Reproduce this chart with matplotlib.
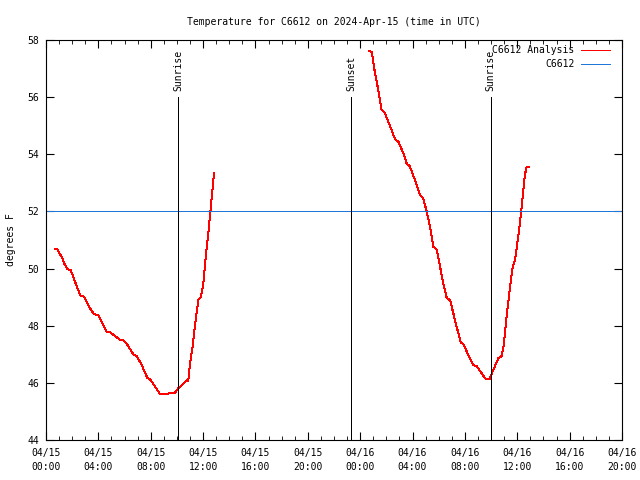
import matplotlib
matplotlib.use("Agg")
import matplotlib.pyplot as plt
import matplotlib.dates as mdates
from datetime import datetime

# analysis temperature, two segments (time UTC, degrees F)
times_a = ["04-15 00:43", "04-15 00:52", "04-15 01:15", "04-15 01:23", "04-15 01:38",
           "04-15 01:53", "04-15 02:05", "04-15 02:21", "04-15 02:39", "04-15 02:54",
           "04-15 03:22", "04-15 03:40", "04-15 04:00", "04-15 04:23", "04-15 04:38",
           "04-15 04:56", "04-15 05:24", "04-15 05:39", "04-15 05:57", "04-15 06:13",
           "04-15 06:40", "04-15 06:56", "04-15 07:19", "04-15 07:44", "04-15 08:00",
           "04-15 08:20", "04-15 08:43", "04-15 09:05", "04-15 09:28", "04-15 09:51",
           "04-15 10:06", "04-15 10:29", "04-15 10:45", "04-15 10:52", "04-15 11:00",
           "04-15 11:12", "04-15 11:23", "04-15 11:38", "04-15 11:50", "04-15 12:01",
           "04-15 12:13", "04-15 12:24", "04-15 12:50"]
temps_a = [50.67, 50.67, 50.36, 50.18, 49.98, 49.95, 49.72, 49.37, 49.04, 49.02,
           48.61, 48.40, 48.38, 48.02, 47.79, 47.76, 47.60, 47.50, 47.48, 47.33,
           47.00, 46.94, 46.62, 46.18, 46.10, 45.87, 45.60, 45.60, 45.64, 45.66,
           45.81, 45.96, 46.10, 46.08, 46.68, 47.27, 48.02, 48.90, 49.00, 49.48,
           50.47, 51.23, 53.34]

times_b = ["04-16 00:42", "04-16 00:53", "04-16 01:08", "04-16 01:23", "04-16 01:38",
           "04-16 01:50", "04-16 02:09", "04-16 02:24", "04-16 02:40", "04-16 02:55",
           "04-16 03:18", "04-16 03:33", "04-16 03:48", "04-16 04:11", "04-16 04:34",
           "04-16 04:49", "04-16 05:05", "04-16 05:20", "04-16 05:35", "04-16 05:51",
           "04-16 06:06", "04-16 06:21", "04-16 06:37", "04-16 06:52", "04-16 07:07",
           "04-16 07:22", "04-16 07:41", "04-16 07:53", "04-16 08:16", "04-16 08:38",
           "04-16 08:54", "04-16 09:17", "04-16 09:37", "04-16 09:52", "04-16 10:10",
           "04-16 10:33", "04-16 10:49", "04-16 10:59", "04-16 11:11", "04-16 11:27",
           "04-16 11:39", "04-16 11:50", "04-16 12:00", "04-16 12:12", "04-16 12:25",
           "04-16 12:35", "04-16 12:43", "04-16 12:54"]
temps_b = [57.61, 57.59, 56.83, 56.25, 55.55, 55.49, 55.14, 54.85, 54.52, 54.44,
           54.03, 53.68, 53.57, 53.10, 52.57, 52.46, 51.99, 51.47, 50.77, 50.65,
           50.07, 49.48, 48.96, 48.90, 48.43, 47.97, 47.41, 47.36, 46.97, 46.62,
           46.59, 46.33, 46.12, 46.12, 46.45, 46.86, 46.94, 47.38, 48.32, 49.37,
           50.07, 50.30, 50.88, 51.58, 52.52, 53.28, 53.57, 53.57]

station_temp = 52.0

sun_events = [("Sunrise", "04-15 10:05"), ("Sunset", "04-15 23:18"), ("Sunrise", "04-16 09:59")]


def to_dt(s):
    return datetime.strptime("2024-" + s, "%Y-%m-%d %H:%M")


plt.rcParams["font.family"] = "DejaVu Sans Mono"
plt.rcParams["font.size"] = 7
plt.rcParams["lines.antialiased"] = False

fig = plt.figure(figsize=(6.4, 4.8), dpi=100)
ax = fig.add_axes([46 / 640, 40 / 480, 576 / 640, 400 / 480])

lw = 0.72  # one pixel at 100 dpi
ax.plot([to_dt(t) for t in times_a], temps_a, color="red", lw=lw, label="C6612 Analysis")
ax.plot([to_dt(t) for t in times_b], temps_b, color="red", lw=lw)
ax.axhline(station_temp, color="#1f77d9", lw=lw, label="C6612")

for name, t in sun_events:
    d = to_dt(t)
    ax.plot([d, d], [44, 56], color="black", lw=lw)
    ax.text(d, 56.2, name, rotation=90, ha="center", va="bottom", fontsize=7)

ax.set_xlim(to_dt("04-15 00:00"), to_dt("04-16 20:00"))
ax.set_ylim(44, 58)
ax.set_yticks(range(44, 59, 2))
ax.xaxis.set_major_locator(mdates.HourLocator(byhour=range(0, 24, 4)))
ax.xaxis.set_minor_locator(mdates.HourLocator())
ax.xaxis.set_major_formatter(mdates.DateFormatter("%m/%d\n%H:%M"))
ax.tick_params(which="both", direction="in", top=True, right=True, labelsize=7)
ax.tick_params(which="major", length=6)
ax.tick_params(which="minor", length=3)
ax.tick_params(axis="x", pad=6)
ax.tick_params(axis="y", pad=5)

ax.set_ylabel("degrees F", fontsize=7)
ax.yaxis.set_label_coords(-0.052, 0.5)
ax.set_title("Temperature for C6612 on 2024-Apr-15 (time in UTC)", fontsize=7, pad=11)

ax.legend(loc="upper right", frameon=False, markerfirst=False, handlelength=3.0,
          handletextpad=0.65, borderpad=0, borderaxespad=0,
          bbox_to_anchor=(1 - 12 / 576, 1 - 5 / 400),
          labelspacing=0.45, fontsize=7)

fig.canvas.draw()
for lbl in ax.get_xticklabels():
    lbl.set_linespacing(1.5)

fig.savefig("out.png", dpi=100)
